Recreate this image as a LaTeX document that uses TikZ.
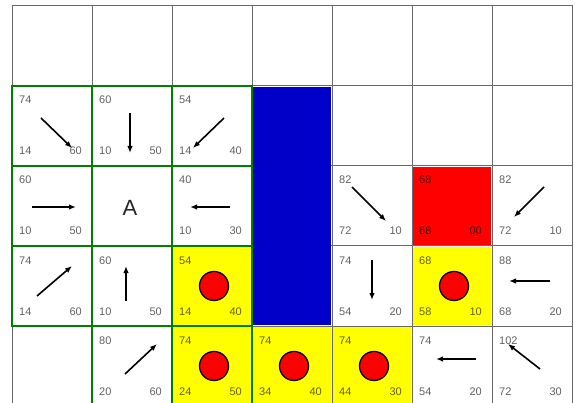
\documentclass[tikz,border=0pt]{standalone}
\usepackage{fontspec}
\setmainfont{Liberation Sans}
\usetikzlibrary{arrows.meta}
\definecolor{gridc}{RGB}{105,105,105}
\definecolor{bluec}{RGB}{0,0,200}
\definecolor{greenc}{RGB}{0,128,0}
\definecolor{yellowc}{RGB}{255,255,0}
\definecolor{redc}{RGB}{255,0,0}
\tikzset{
  cell/.style={draw=gridc, line width=1pt, rectangle, minimum size=80pt, inner sep=0pt, outer sep=0pt, anchor=north west},
  greenbox/.style={draw=greenc, line width=2.6pt},
  num/.style={font=\fontsize{11}{13}\selectfont, text=black, text opacity=0.62, inner sep=0pt},
  bigletter/.style={font=\fontsize{22}{24}\selectfont, text=black!85, inner sep=0pt},
  dot/.style={circle, fill=redc, draw=black, line width=1.3pt, minimum size=29pt, inner sep=0pt},
  arr/.style={line width=1.6pt, -{Latex[length=7pt,width=5.5pt]}},
}
\newcommand\cellnums[4]{%
  \node[num, anchor=base west] (#1t) at ([shift={(7,18)}]#1.north west) {#2};
  \node[num, anchor=base west] (#1l) at ([shift={(7,69)}]#1.north west) {#3};
  \node[num, anchor=base east] (#1r) at ([shift={(70,69)}]#1.north west) {#4};}
\begin{document}
\begin{tikzpicture}[x=1pt,y=-1pt]
  \useasboundingbox (0,0) rectangle (575,403);
  \fill[white] (0,0) rectangle (575,403);
  \clip (0,0) rectangle (575,403);
  % cells
  \foreach \r in {0,...,4}{
    \foreach \c in {0,...,6}{
      \node[cell] (c\r\c) at ({12+80*\c},{6+80*\r}) {};
    }
  }
  % coloured fills
  \fill[bluec] ([shift={(0.6,0.6)}]c13.north west) rectangle ([shift={(-0.6,-0.6)}]c33.south east);
  \foreach \n in {c32,c35,c42,c43,c44}{
    \fill[yellowc] ([shift={(0.6,0.6)}]\n.north west) rectangle ([shift={(-0.6,-0.6)}]\n.south east);
  }
  \fill[redc] ([shift={(0.6,0.6)}]c25.north west) rectangle ([shift={(-0.6,-0.6)}]c25.south east);
  % green outlines
  \foreach \n in {c10,c11,c12,c20,c21,c22,c30,c31,c32,c41,c42}{
    \draw[greenbox] (\n.north west) rectangle (\n.south east);
  }
  % numbers
  \cellnums{c10}{74}{14}{60}
  \cellnums{c11}{60}{10}{50}
  \cellnums{c12}{54}{14}{40}
  \cellnums{c20}{60}{10}{50}
  \cellnums{c22}{40}{10}{30}
  \cellnums{c24}{82}{72}{10}
  \cellnums{c25}{68}{68}{00}
  \cellnums{c26}{82}{72}{10}
  \cellnums{c30}{74}{14}{60}
  \cellnums{c31}{60}{10}{50}
  \cellnums{c32}{54}{14}{40}
  \cellnums{c34}{74}{54}{20}
  \cellnums{c35}{68}{58}{10}
  \cellnums{c36}{88}{68}{20}
  \cellnums{c41}{80}{20}{60}
  \cellnums{c42}{74}{24}{50}
  \cellnums{c43}{74}{34}{40}
  \cellnums{c44}{74}{44}{30}
  \cellnums{c45}{74}{54}{20}
  \cellnums{c46}{102}{72}{30}
  % start letter
  \node[bigletter] (a) at ([shift={(-2,2)}]c21.center) {A};
  % path dots
  \foreach \n in {c32,c35,c42,c43,c44}{
    \node[dot] (\n d) at ([xshift=2]\n.center) {};
  }
  % arrows
  \draw[arr] (41,118) -- (72,148);
  \draw[arr] (130,113) -- (130,153);
  \draw[arr] (224,118) -- (193,148);
  \draw[arr] (32,207) -- (76,207);
  \draw[arr] (230,207) -- (190,207);
  \draw[arr] (352,187) -- (386,221);
  \draw[arr] (544,187) -- (514,217);
  \draw[arr] (37,296) -- (72,266);
  \draw[arr] (126,301) -- (126,266);
  \draw[arr] (372,260) -- (372,300);
  \draw[arr] (550,281) -- (509,281);
  \draw[arr] (125,374) -- (157,344);
  \draw[arr] (476,359) -- (436,359);
  \draw[arr] (540,369) -- (508,344);
\end{tikzpicture}
\end{document}
